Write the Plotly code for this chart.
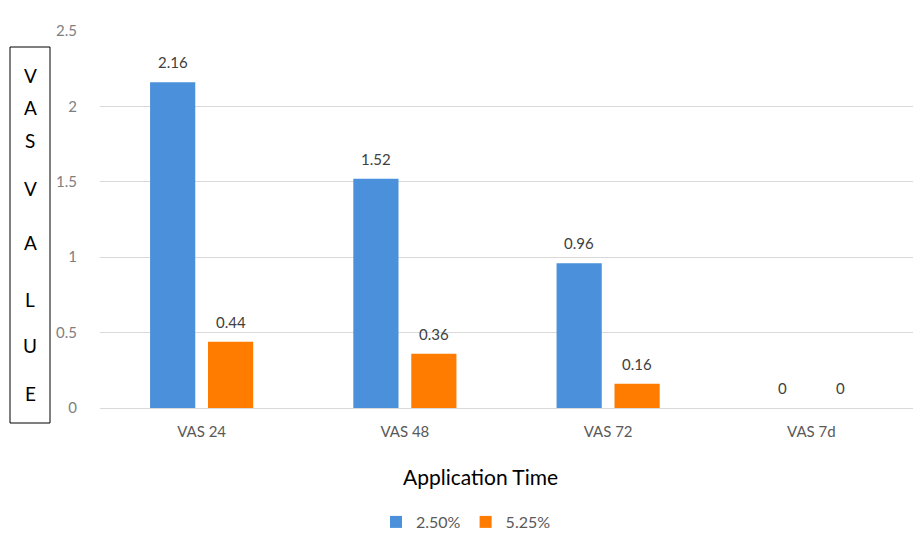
import plotly.graph_objects as go

categories = ["VAS 24", "VAS 48", "VAS 72", "VAS 7d"]
series_names = ["2.50%", "5.25%"]
values_250 = [2.16, 1.52, 0.96, 0]
values_525 = [0.44, 0.36, 0.16, 0]
y_ticks = [0, 0.5, 1, 1.5, 2, 2.5]
y_tick_labels = ["0", "0.5", "1", "1.5", "2", "2.5"]
y_title_letters = ["V", "A", "S", "V", "A", "L", "U", "E"]

OFF = 8  # page offset of the figure in the browser window
W, H = 924, 552
# target screen positions of plot area: left 100, right 913, top 31, bottom 408
ML = 100 - OFF
MT = 31 - OFF
PW = 913 - 100
PH = 408 - 31
MR = W - ML - PW
MB = H - MT - PH

FONT = "Lato"
blue = "#4A90DA"
orange = "#FF7C00"

fig = go.Figure()
fig.add_trace(go.Bar(x=categories, y=values_250, name=series_names[0],
                     marker=dict(color=blue, line=dict(width=0))))
fig.add_trace(go.Bar(x=categories, y=values_525, name=series_names[1],
                     marker=dict(color=orange, line=dict(width=0))))

annotations = []
for vals, shift in ((values_250, -29), (values_525, 29)):
    for c, v in zip(categories, vals):
        annotations.append(dict(x=c, y=v, xref="x", yref="y", text=str(v),
                                showarrow=False, xshift=shift, yshift=20,
                                yanchor="middle",
                                font=dict(family=FONT, size=15, color="#404040")))

def px_to_paper_y(py):
    # py: target screen pixel
    return (408 - py) / PH

def px_to_paper_x(px):
    return (px - 100) / PW

letter_y = [75, 107, 140, 188, 242, 300, 345, 393]
for letter, py in zip(y_title_letters, letter_y):
    annotations.append(dict(x=px_to_paper_x(30), y=px_to_paper_y(py), xref="paper", yref="paper",
                            text=letter, showarrow=False, xanchor="center", yanchor="middle",
                            font=dict(family=FONT, size=19, color="#000000")))

annotations.append(dict(x=px_to_paper_x(480), y=px_to_paper_y(476), xref="paper", yref="paper",
                        text="Application Time", showarrow=False, xanchor="center", yanchor="middle",
                        font=dict(family=FONT, size=21, color="#000000")))

shapes = [
    dict(type="rect", xref="paper", yref="paper",
         x0=px_to_paper_x(10), x1=px_to_paper_x(50),
         y0=px_to_paper_y(423), y1=px_to_paper_y(47),
         line=dict(color="#000000", width=1), fillcolor="rgba(0,0,0,0)"),
    dict(type="line", xref="paper", yref="paper",
         x0=px_to_paper_x(10), x1=px_to_paper_x(924),
         y0=px_to_paper_y(7), y1=px_to_paper_y(7),
         line=dict(color="#d9d9d9", width=1)),
]

fig.update_layout(
    width=W, height=H,
    margin=dict(l=ML, r=MR, t=MT, b=MB, autoexpand=False),
    paper_bgcolor="white", plot_bgcolor="white",
    barmode="group", bargap=0.43, bargroupgap=0.22,
    font=dict(family=FONT),
    showlegend=True,
    legend=dict(orientation="h", x=px_to_paper_x(466), xanchor="center",
                y=px_to_paper_y(522), yanchor="middle",
                font=dict(family=FONT, size=16, color="#595959"),
                itemwidth=30, traceorder="normal"),
    annotations=annotations,
    shapes=shapes,
)
fig.update_xaxes(showgrid=False, showline=True, linecolor="#d9d9d9", linewidth=1,
                 ticks="", tickfont=dict(family=FONT, size=15, color="#595959"),
                 ticklabelstandoff=10)
fig.update_yaxes(range=[0, 2.5], tickvals=y_ticks, ticktext=y_tick_labels,
                 showgrid=True, gridcolor="#d9d9d9", gridwidth=1, zeroline=False,
                 showline=False, ticks="", ticklabelstandoff=22,
                 tickfont=dict(family=FONT, size=15, color="#7f7f7f"))

fig.write_html("out.html")
